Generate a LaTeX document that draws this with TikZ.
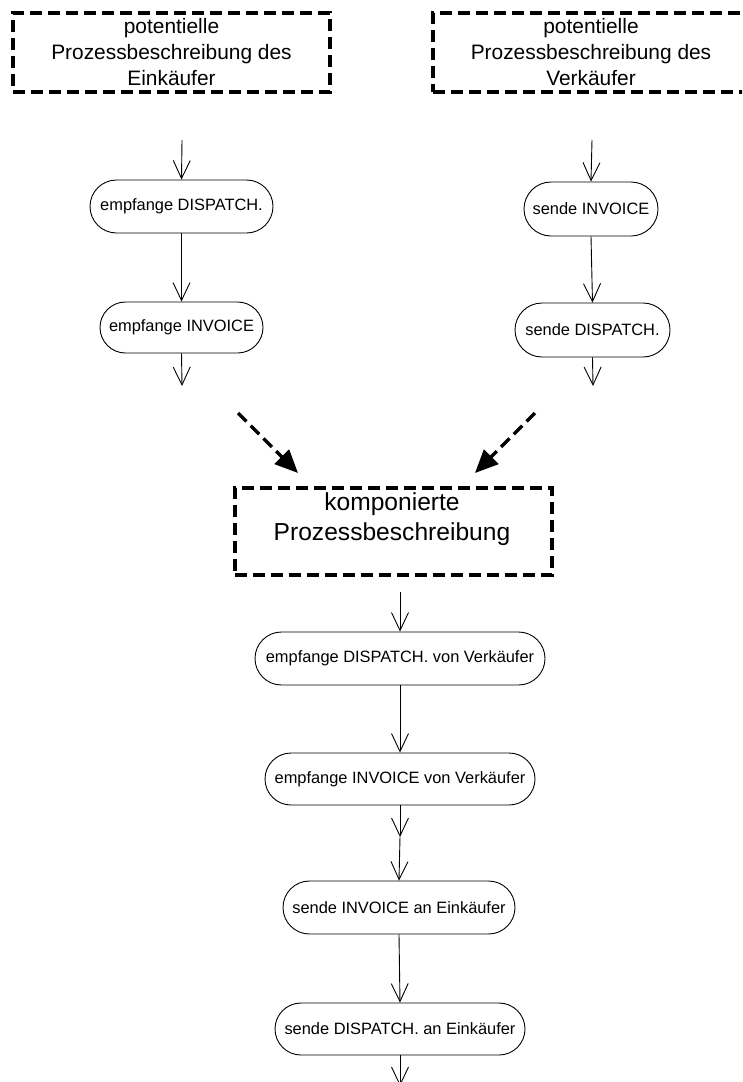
\documentclass[tikz,border=0pt]{standalone}
\usepackage{fontspec}
\setmainfont{Liberation Sans}
\usetikzlibrary{arrows.meta,shapes.misc}

\tikzset{
  act/.style={draw, rounded rectangle, line width=0.9pt, inner sep=0pt,
    font=\fontsize{16.4}{19}\selectfont},
  flow/.style={line width=0.9pt, -{Straight Barb[length=18pt,width=17pt,line width=0.9pt]}},
  frame/.style={draw, rectangle, line width=3.4pt, dash pattern=on 12pt off 6pt,
    inner sep=0pt, align=center},
  merge/.style={line width=3.4pt, dash pattern=on 12pt off 6pt,
    -{Triangle[length=23pt,width=20pt]}}
}

\begin{document}
\begin{tikzpicture}[x=1pt,y=-1pt]
\clip (0,0) rectangle (742,1082);
\fill[white] (0,0) rectangle (742,1082);

% two source process descriptions (the seller frame runs past the right edge)
\node[frame, minimum width=317pt, minimum height=79pt,
      font=\fontsize{20.9}{26}\selectfont] (buyer) at (171.5,52.5)
  {potentielle\\Prozessbeschreibung des\\Einkäufer};
\node[frame, minimum width=330pt, minimum height=79pt,
      font=\fontsize{20.9}{26}\selectfont] (seller) at (598,52.5)
  {\hspace*{-14pt}potentielle\\\hspace*{-14pt}Prozessbeschreibung des\\\hspace*{-14pt}Verkäufer};

% buyer activities
\coordinate (bIn) at (182,140);
\node[act, minimum width=183pt, minimum height=53pt] (bDisp) at (181.5,206.5) {empfange DISPATCH.};
\node[act, minimum width=163pt, minimum height=51pt] (bInv) at (181.5,327.5) {empfange INVOICE};
\coordinate (bOut) at (182,386);
\draw[flow] (bIn) -- (bDisp.north);
\draw[flow] (bDisp.south) -- (bInv.north);
\draw[flow] (bInv.south) -- (bOut);

% seller activities
\coordinate (sIn) at (592,140);
\node[act, minimum width=134pt, minimum height=54pt] (sInv) at (591,209) {sende INVOICE};
\node[act, minimum width=155pt, minimum height=54pt] (sDisp) at (592.5,330) {sende DISPATCH.};
\coordinate (sOut) at (593,386);
\draw[flow] (sIn) -- (sInv.north);
\draw[flow] (sInv.south) -- (sDisp.north);
\draw[flow] (sDisp.south) -- (sOut);

% composition
\coordinate (mL0) at (238,413);
\coordinate (mL1) at (298,473);
\coordinate (mR0) at (535,413);
\coordinate (mR1) at (475,473);
\draw[merge] (mL0) -- (mL1);
\draw[merge] (mR0) -- (mR1);

\node[frame, minimum width=317pt, minimum height=87pt] (comp) at (393.5,531.5) {};
\node[align=center, inner sep=0pt, font=\fontsize{24.6}{30}\selectfont] (compText) at (392,519)
  {komponierte\\Prozessbeschreibung};

% composed activities
\coordinate (cIn) at (400,592);
\node[act, minimum width=290pt, minimum height=53pt] (c1) at (400,658.5) {empfange DISPATCH. von Verkäufer};
\node[act, minimum width=270pt, minimum height=52pt] (c2) at (400,779) {empfange INVOICE von Verkäufer};
\coordinate (cMid) at (400,837);
\node[act, minimum width=232pt, minimum height=53pt] (c3) at (399,907.5) {sende INVOICE an Einkäufer};
\node[act, minimum width=250pt, minimum height=52pt] (c4) at (400,1029) {sende DISPATCH. an Einkäufer};
\coordinate (cOut) at (400,1086);

\draw[flow] (cIn) -- (c1.north);
\draw[flow] (c1.south) -- (c2.north);
\draw[flow] (c2.south) -- (cMid);
\draw[flow] (cMid) -- (c3.north);
\draw[flow] (c3.south) -- (c4.north);
\draw[flow] (c4.south) -- (cOut);
\end{tikzpicture}
\end{document}
